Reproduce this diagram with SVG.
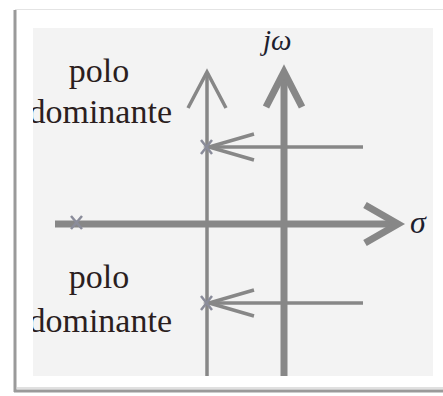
<svg xmlns="http://www.w3.org/2000/svg" width="443" height="396" viewBox="0 0 443 396">
  <defs>
    <style>
      .ax { stroke: #878787; fill: none; stroke-linecap: butt; stroke-linejoin: miter; }
      .thin { stroke-width: 3.5; }
      .thick { stroke-width: 7; }
      .pole { stroke: #8a8c9a; stroke-width: 2.5; fill: none; }
      .lbl { font-family: "Liberation Serif", "DejaVu Serif", serif; font-size: 34px; fill: #2b1e1e; }
      .sym { font-family: "Liberation Serif", "DejaVu Serif", serif; font-style: italic; fill: #1e1e2e; }
    </style>
    <clipPath id="panelClip">
      <rect x="33" y="28" width="400" height="348"/>
    </clipPath>
  </defs>

  <!-- page frame -->
  <rect x="0" y="0" width="443" height="396" fill="#ffffff"/>
  <line x1="15" y1="9.5" x2="443" y2="9.5" stroke="#e4e4e4" stroke-width="1"/>
  <line x1="15" y1="10" x2="15" y2="392" stroke="#9a9a9a" stroke-width="3"/>
  <line x1="14" y1="391" x2="443" y2="391" stroke="#9a9a9a" stroke-width="3"/>
  <line x1="17" y1="388" x2="443" y2="388" stroke="#d6d6d6" stroke-width="1.5"/>

  <!-- plot panel -->
  <rect x="33" y="28" width="400" height="348" fill="#f3f3f3"/>

  <g id="connectors">
    <!-- shifted imaginary line -->
    <g id="shifted-axis">
      <line class="ax thin" x1="207" y1="72" x2="207" y2="376"/>
      <polyline class="ax thin" points="188,108 207,72 226,108"/>
    </g>
    <!-- imaginary axis -->
    <g id="jw-axis">
      <line class="ax thick" x1="284" y1="72" x2="284" y2="376"/>
      <polyline class="ax thick" points="266,107 284,72 302,107"/>
    </g>
    <!-- real axis -->
    <g id="sigma-axis">
      <line class="ax thick" x1="55" y1="224" x2="396" y2="224"/>
      <polyline class="ax thick" points="365,205 398,224 365,243"/>
    </g>
    <!-- pole movement arrows -->
    <g id="arrow-upper">
      <line class="ax thin" x1="363" y1="147" x2="208" y2="147"/>
      <polyline class="ax thin" points="254,134 209,147 254,160"/>
    </g>
    <g id="arrow-lower">
      <line class="ax thin" x1="363" y1="303" x2="208" y2="303"/>
      <polyline class="ax thin" points="254,290 209,303 254,316"/>
    </g>
  </g>

  <!-- poles -->
  <g id="pole-far">
    <path class="pole" d="M71,216 L82,229 M82,216 L71,229"/>
  </g>
  <g id="pole-upper">
    <path class="pole" d="M201,140 L212,154 M212,140 L201,154"/>
  </g>
  <g id="pole-lower">
    <path class="pole" d="M201,296 L212,310 M212,296 L201,310"/>
  </g>

  <!-- labels -->
  <g id="label-upper" clip-path="url(#panelClip)">
    <text class="lbl" x="99" y="82" text-anchor="middle">polo</text>
    <text class="lbl" x="172" y="123" text-anchor="end">dominante</text>
  </g>
  <g id="label-lower" clip-path="url(#panelClip)">
    <text class="lbl" x="99" y="288" text-anchor="middle">polo</text>
    <text class="lbl" x="172" y="332" text-anchor="end">dominante</text>
  </g>
  <g id="label-jw">
    <text class="sym" x="263" y="50" font-size="29">jω</text>
  </g>
  <g id="label-sigma">
    <text class="sym" x="410" y="233" font-size="32">σ</text>
  </g>
</svg>
